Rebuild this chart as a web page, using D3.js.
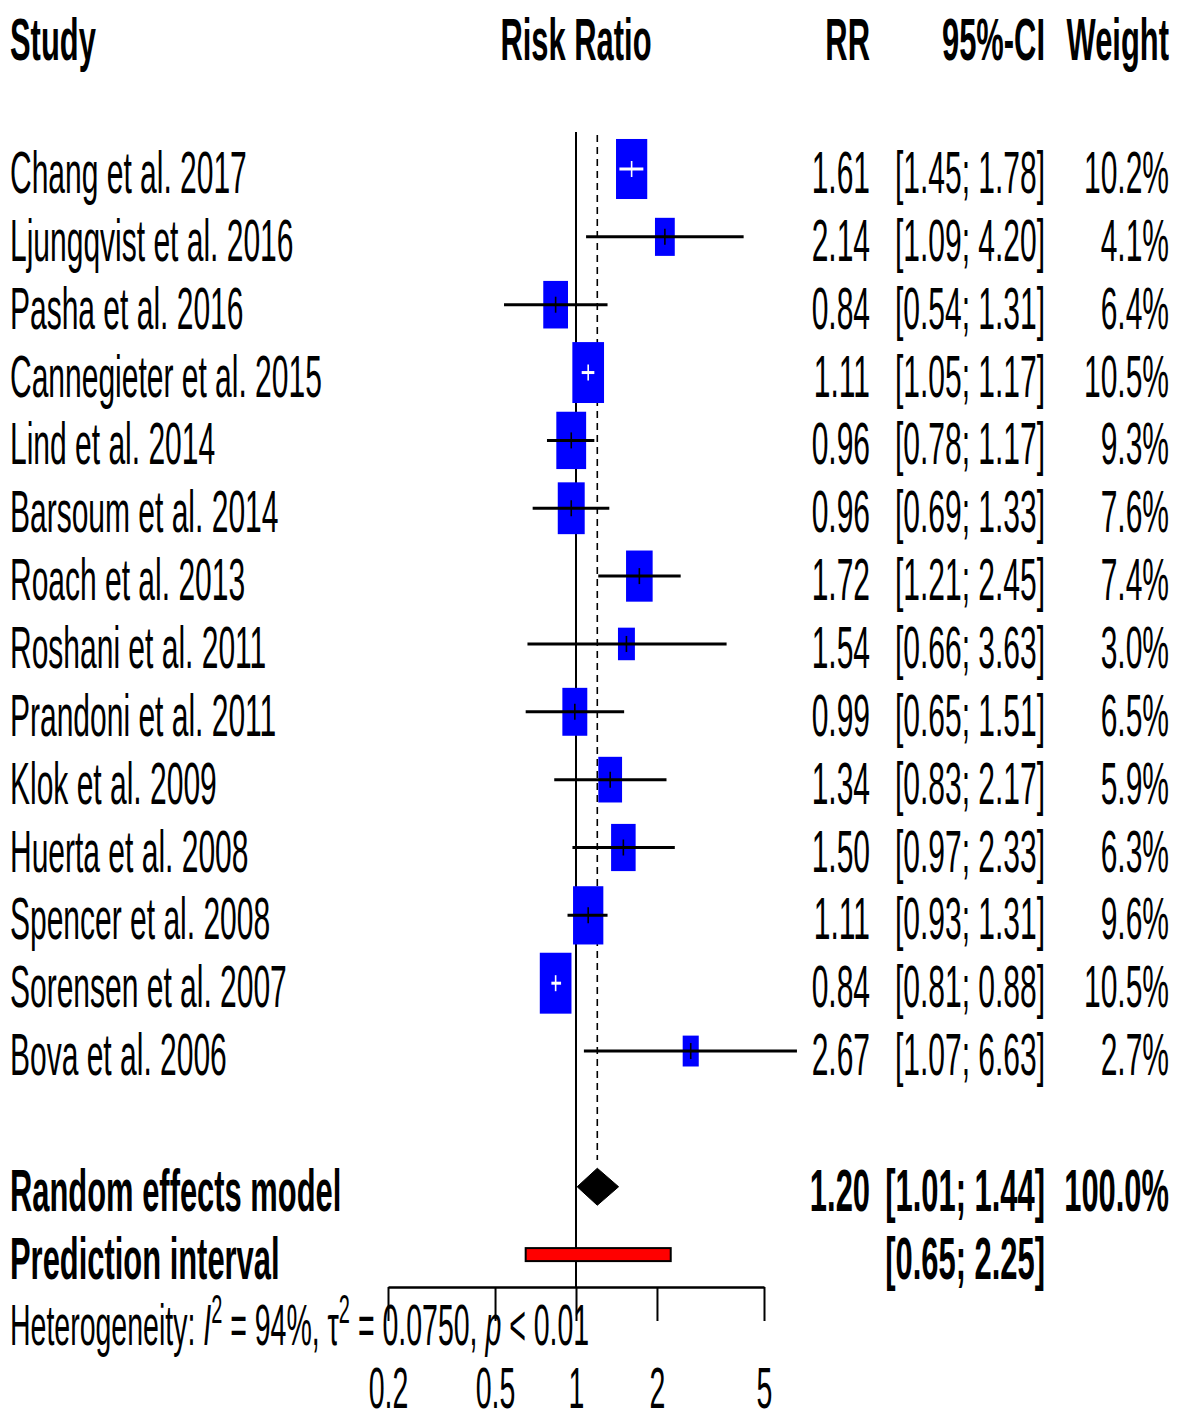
<!DOCTYPE html>
<html>
<head>
<meta charset="utf-8">
<script src="https://cdn.jsdelivr.net/npm/d3@7"></script>
<style>
  html, body { margin: 0; padding: 0; background: #fff; }
  svg { display: block; }
  text { font-family: "Liberation Sans", Arial, sans-serif; fill: #000; }
</style>
</head>
<body>
<svg id="chart" width="1179" height="1416"></svg>
<script>
// ---- data ----
const studies = ["Chang et al. 2017", "Ljungqvist et al. 2016", "Pasha et al. 2016", "Cannegieter et al. 2015",
  "Lind et al. 2014", "Barsoum et al. 2014", "Roach et al. 2013", "Roshani et al. 2011", "Prandoni et al. 2011",
  "Klok et al. 2009", "Huerta et al. 2008", "Spencer et al. 2008", "Sorensen et al. 2007", "Bova et al. 2006"];
const rr      = [1.61, 2.14, 0.84, 1.11, 0.96, 0.96, 1.72, 1.54, 0.99, 1.34, 1.50, 1.11, 0.84, 2.67];
const lower   = [1.45, 1.09, 0.54, 1.05, 0.78, 0.69, 1.21, 0.66, 0.65, 0.83, 0.97, 0.93, 0.81, 1.07];
const upper   = [1.78, 4.20, 1.31, 1.17, 1.17, 1.33, 2.45, 3.63, 1.51, 2.17, 2.33, 1.31, 0.88, 6.63];
const weights = [10.2, 4.1, 6.4, 10.5, 9.3, 7.6, 7.4, 3.0, 6.5, 5.9, 6.3, 9.6, 10.5, 2.7];
const pooled = {label: "Random effects model", rr: 1.20, lower: 1.01, upper: 1.44, weight: 100.0};
const prediction = {label: "Prediction interval", lower: 0.65, upper: 2.25};
const tickValues = [0.2, 0.5, 1, 2, 5];
const tickLabels = ["0.2", "0.5", "1", "2", "5"];
const headers = ["Study", "Risk Ratio", "RR", "95%-CI", "Weight"];

// ---- layout ----
const svg = d3.select("#chart");
const SX = 0.5;           // horizontal text compression
const SXB = 0.515;        // bold text compression
const FS = 60;            // main font size
const x = d3.scaleLog().domain([0.2, 5]).range([388, 764]);
const y = d3.scaleLinear().domain([0, 16]).range([169, 169 + 16 * 67.85]);
const f2 = d3.format(".2f"), f1 = d3.format(".1f");
const colRR = 870, colCI = 1045, colW = 1169, colStudy = 10;
const boxH = w => 18.8 * Math.sqrt(w);
const boxAspect = 0.52;

function txt(g, s, xx, yy, anchor, opts = {}) {
  return g.append("text")
    .attr("transform", `translate(${xx},${yy}) scale(${opts.bold ? SXB : SX},1)`)
    .attr("text-anchor", anchor)
    .attr("font-size", opts.size || FS)
    .attr("font-weight", opts.bold ? "bold" : "normal")
    .text(s);
}

// headers
const hg = svg.append("g");
txt(hg, headers[0], colStudy, 60, "start", {bold: true});
txt(hg, headers[1], x(1), 60, "middle", {bold: true});
txt(hg, headers[2], colRR, 60, "end", {bold: true});
txt(hg, headers[3], colCI, 60, "end", {bold: true});
txt(hg, headers[4], colW, 60, "end", {bold: true});

// reference lines
svg.append("line").attr("x1", x(1)).attr("x2", x(1)).attr("y1", 132).attr("y2", 1287)
  .attr("stroke", "#000").attr("stroke-width", 2);
svg.append("line").attr("x1", x(pooled.rr)).attr("x2", x(pooled.rr)).attr("y1", 135).attr("y2", 1160)
  .attr("stroke", "#000").attr("stroke-width", 1.6).attr("stroke-dasharray", "7,5");

// study rows
const rows = studies.map((s, i) => ({s, rr: rr[i], lo: lower[i], hi: upper[i], w: weights[i], i}));
const rg = svg.append("g");
rows.forEach(d => {
  const cy = y(d.i);
  const h = boxH(d.w), bw = h * boxAspect;
  const cx = x(d.rr);
  rg.append("rect").attr("x", cx - bw / 2).attr("y", cy - h / 2).attr("width", bw).attr("height", h)
    .attr("fill", "#0000ff");
  const inside = x(d.lo) >= cx - bw / 2 && x(d.hi) <= cx + bw / 2;
  const col = inside ? "#fff" : "#000";
  rg.append("line").attr("x1", x(d.lo)).attr("x2", x(d.hi)).attr("y1", cy).attr("y2", cy)
    .attr("stroke", col).attr("stroke-width", 3);
  rg.append("line").attr("x1", cx).attr("x2", cx).attr("y1", cy - 8).attr("y2", cy + 8)
    .attr("stroke", col).attr("stroke-width", 1.6);
  txt(rg, d.s, colStudy, cy + 24, "start");
  txt(rg, f2(d.rr), colRR, cy + 24, "end");
  txt(rg, `[${f2(d.lo)}; ${f2(d.hi)}]`, colCI, cy + 24, "end");
  txt(rg, f1(d.w) + "%", colW, cy + 24, "end");
});

// pooled diamond
const py = y(15);
svg.append("path")
  .attr("d", `M${x(pooled.lower)},${py} L${x(pooled.rr)},${py - 18.5} L${x(pooled.upper)},${py} L${x(pooled.rr)},${py + 18.5} Z`)
  .attr("fill", "#000").attr("stroke", "#000").attr("stroke-width", 1);
txt(svg, pooled.label, colStudy, py + 24, "start", {bold: true});
txt(svg, f2(pooled.rr), colRR, py + 24, "end", {bold: true});
txt(svg, `[${f2(pooled.lower)}; ${f2(pooled.upper)}]`, colCI, py + 24, "end", {bold: true});
txt(svg, f1(pooled.weight) + "%", colW, py + 24, "end", {bold: true});

// prediction interval
const qy = y(16);
svg.append("rect").attr("x", x(prediction.lower)).attr("y", qy - 6.5)
  .attr("width", x(prediction.upper) - x(prediction.lower)).attr("height", 13)
  .attr("fill", "#ff0000").attr("stroke", "#000").attr("stroke-width", 2);
txt(svg, prediction.label, colStudy, qy + 24, "start", {bold: true});
txt(svg, `[${f2(prediction.lower)}; ${f2(prediction.upper)}]`, colCI, qy + 24, "end", {bold: true});

// axis
const axis = d3.axisBottom(x).tickValues(tickValues).tickFormat((d, i) => tickLabels[i])
  .tickSize(34).tickSizeOuter(0).tickPadding(0);
const ag = svg.append("g").attr("transform", "translate(0,1287)").call(axis);
ag.select(".domain").attr("stroke", "#000").attr("stroke-width", 2.7);
ag.selectAll(".tick line").attr("stroke", "#000").attr("stroke-width", 2);
ag.selectAll(".tick text")
  .attr("y", 0).attr("dy", null)
  .attr("transform", `translate(0,121) scale(${SX},1)`)
  .attr("font-size", 57).attr("font-family", "Liberation Sans, Arial, sans-serif")
  .attr("fill", "#000");

// heterogeneity
const het = svg.append("text")
  .attr("transform", `translate(10,1345) scale(${SX},1)`)
  .attr("font-size", 57);
het.append("tspan").text("Heterogeneity: ");
het.append("tspan").attr("font-style", "italic").text("I");
het.append("tspan").attr("font-size", 40).attr("dy", -22).text("2");
het.append("tspan").attr("dy", 22).text(" = 94%, \u03C4");
het.append("tspan").attr("font-size", 40).attr("dy", -22).text("2");
het.append("tspan").attr("dy", 22).text(" = 0.0750, ");
het.append("tspan").attr("font-style", "italic").text("p");
het.append("tspan").text(" < 0.01");
</script>
</body>
</html>
